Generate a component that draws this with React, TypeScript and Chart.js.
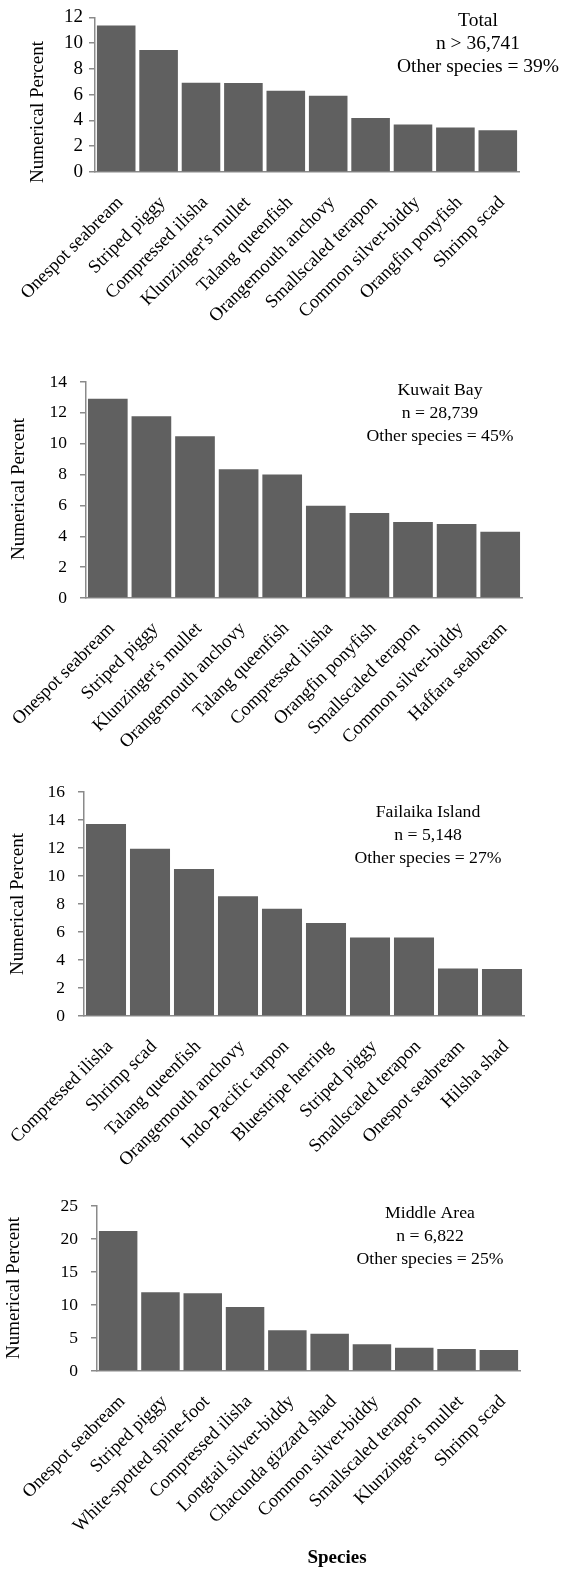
import React, { useEffect, useRef } from "react";
import { Chart, registerables } from "chart.js";

Chart.register(...registerables);

// ---------- data ----------
const totalSpecies = [
  "Onespot seabream", "Striped piggy", "Compressed ilisha", "Klunzinger's mullet", "Talang queenfish",
  "Orangemouth anchovy", "Smallscaled terapon", "Common silver-biddy", "Orangfin ponyfish", "Shrimp scad",
];
const totalValues = [11.38, 9.46, 6.92, 6.9, 6.3, 5.92, 4.2, 3.69, 3.46, 3.25];
const totalNote = ["Total", "n > 36,741", "Other species = 39%"];
const totalTicks = { max: 12, step: 2 };

const kuwaitSpecies = [
  "Onespot seabream", "Striped piggy", "Klunzinger's mullet", "Orangemouth anchovy", "Talang queenfish",
  "Compressed ilisha", "Orangfin ponyfish", "Smallscaled terapon", "Common silver-biddy", "Haffara seabream",
];
const kuwaitValues = [12.92, 11.78, 10.49, 8.35, 8.01, 5.98, 5.51, 4.93, 4.8, 4.3];
const kuwaitNote = ["Kuwait Bay", "n = 28,739", "Other species = 45%"];
const kuwaitTicks = { max: 14, step: 2 };

const failaikaSpecies = [
  "Compressed ilisha", "Shrimp scad", "Talang queenfish", "Orangemouth anchovy", "Indo-Pacific tarpon",
  "Bluestripe herring", "Striped piggy", "Smallscaled terapon", "Onespot seabream", "Hilsha shad",
];
const failaikaValues = [13.71, 11.94, 10.5, 8.55, 7.66, 6.64, 5.61, 5.6, 3.39, 3.35];
const failaikaNote = ["Failaika Island", "n = 5,148", "Other species = 27%"];
const failaikaTicks = { max: 16, step: 2 };

const middleSpecies = [
  "Onespot seabream", "Striped piggy", "White-spotted spine-foot", "Compressed ilisha", "Longtail silver-biddy",
  "Chacunda gizzard shad", "Common silver-biddy", "Smallscaled terapon", "Klunzinger's mullet", "Shrimp scad",
];
const middleValues = [21.2, 11.92, 11.77, 9.7, 6.17, 5.65, 4.04, 3.53, 3.33, 3.2];
const middleNote = ["Middle Area", "n = 6,822", "Other species = 25%"];
const middleTicks = { max: 25, step: 5 };

const yTitle = "Numerical Percent";
const xTitle = "Species";

// ---------- layout / style ----------
const W = 572;
const FONT = "'Liberation Serif', 'Times New Roman', serif";
const BAR = "#606060";
const AXIS = "#8a8a8a";

type PanelProps = {
  labels: string[];
  values: number[];
  note: string[];
  ticks: { max: number; step: number };
  top: number;
  height: number;
  area: { left: number; right: number; top: number; bottom: number };
  tickFont: number;
  tickPad: number;
  catFont: number;
  noteFont: number;
  noteX: number;
  noteY: number;
  titleX: number;
  titleY: number;
  xTitleY?: number;
  xTitleX?: number;
};

function Panel(p: PanelProps) {
  const ref = useRef<HTMLCanvasElement>(null);
  useEffect(() => {
    if (!ref.current) return;
    const annot = {
      id: "annot",
      afterDraw(chart: any) {
        const ctx = chart.ctx;
        ctx.save();
        ctx.fillStyle = "#000";
        ctx.textAlign = "center";
        ctx.textBaseline = "middle";
        ctx.font = `${p.noteFont}px ${FONT}`;
        p.note.forEach((t, i) => ctx.fillText(t, p.noteX, p.noteY + i * 23));
        ctx.translate(p.titleX, p.titleY);
        ctx.rotate(-Math.PI / 2);
        ctx.font = `19px ${FONT}`;
        ctx.fillText(yTitle, 0, 0);
        ctx.restore();
        if (p.xTitleY) {
          ctx.save();
          ctx.fillStyle = "#000";
          ctx.textAlign = "center";
          ctx.textBaseline = "middle";
          ctx.font = `bold 19px ${FONT}`;
          ctx.fillText(xTitle, p.xTitleX, p.xTitleY);
          ctx.restore();
        }
      },
    };
    const chart = new Chart(ref.current, {
      type: "bar",
      data: {
        labels: p.labels,
        datasets: [
          {
            data: p.values,
            backgroundColor: BAR,
            borderWidth: 0,
            barPercentage: 0.91,
            categoryPercentage: 1,
          },
        ],
      },
      options: {
        responsive: false,
        animation: false,
        events: [],
        layout: { padding: { top: p.area.top, left: 0, right: W - p.area.right, bottom: 0 } },
        plugins: { legend: { display: false }, tooltip: { enabled: false } },
        scales: {
          x: {
            grid: { display: false, drawTicks: false },
            border: { display: true, color: AXIS, width: 1.5 },
            ticks: {
              color: "#000",
              font: { family: FONT, size: p.catFont },
              maxRotation: 45,
              minRotation: 45,
              padding: 20,
              labelOffset: 4,
              autoSkip: false,
            },
            afterFit: (s: any) => {
              s.height = p.height - p.area.bottom;
              s.paddingLeft = 0;
              s.paddingRight = 0;
            },
          },
          y: {
            min: 0,
            max: p.ticks.max,
            grid: { display: true, drawOnChartArea: false, drawTicks: true, tickLength: 6, color: AXIS, lineWidth: 1.5 },
            border: { display: true, color: AXIS, width: 1.5 },
            ticks: {
              stepSize: p.ticks.step,
              autoSkip: false,
              color: "#000",
              font: { family: FONT, size: p.tickFont },
              padding: p.tickPad,
            },
            afterFit: (s: any) => {
              s.width = p.area.left;
            },
          },
        },
      },
      plugins: [annot],
    });
    return () => chart.destroy();
  }, []);
  return (
    <canvas
      ref={ref}
      width={W}
      height={p.height}
      style={{ position: "absolute", left: 0, top: p.top, width: W, height: p.height, display: "block" }}
    />
  );
}

export default function App() {
  return (
    <div style={{ position: "absolute", left: 0, top: 0, width: W, height: 1573, background: "#fff" }}>
      <Panel
        labels={totalSpecies}
        values={totalValues}
        note={totalNote}
        ticks={totalTicks}
        top={0}
        height={370}
        area={{ left: 95, right: 519, top: 16, bottom: 172 }}
        tickFont={19}
        tickPad={6}
        catFont={18.5}
        noteFont={19.5}
        noteX={478}
        noteY={21}
        titleX={38}
        titleY={112}
      />
      <Panel
        labels={kuwaitSpecies}
        values={kuwaitValues}
        note={kuwaitNote}
        ticks={kuwaitTicks}
        top={340}
        height={430}
        area={{ left: 86, right: 522, top: 42, bottom: 258 }}
        tickFont={17.5}
        tickPad={13}
        catFont={18.5}
        noteFont={17.7}
        noteX={440}
        noteY={50}
        titleX={19}
        titleY={149}
      />
      <Panel
        labels={failaikaSpecies}
        values={failaikaValues}
        note={failaikaNote}
        ticks={failaikaTicks}
        top={740}
        height={440}
        area={{ left: 84, right: 524, top: 52, bottom: 276 }}
        tickFont={17.5}
        tickPad={13}
        catFont={18.5}
        noteFont={17.7}
        noteX={428}
        noteY={72}
        titleX={18}
        titleY={164}
      />
      <Panel
        labels={middleSpecies}
        values={middleValues}
        note={middleNote}
        ticks={middleTicks}
        top={1140}
        height={433}
        area={{ left: 97, right: 520, top: 66, bottom: 231 }}
        tickFont={17.5}
        tickPad={13}
        catFont={18.5}
        noteFont={17.7}
        noteX={430}
        noteY={73}
        titleX={14}
        titleY={148}
        xTitleX={337}
        xTitleY={418}
      />
    </div>
  );
}
